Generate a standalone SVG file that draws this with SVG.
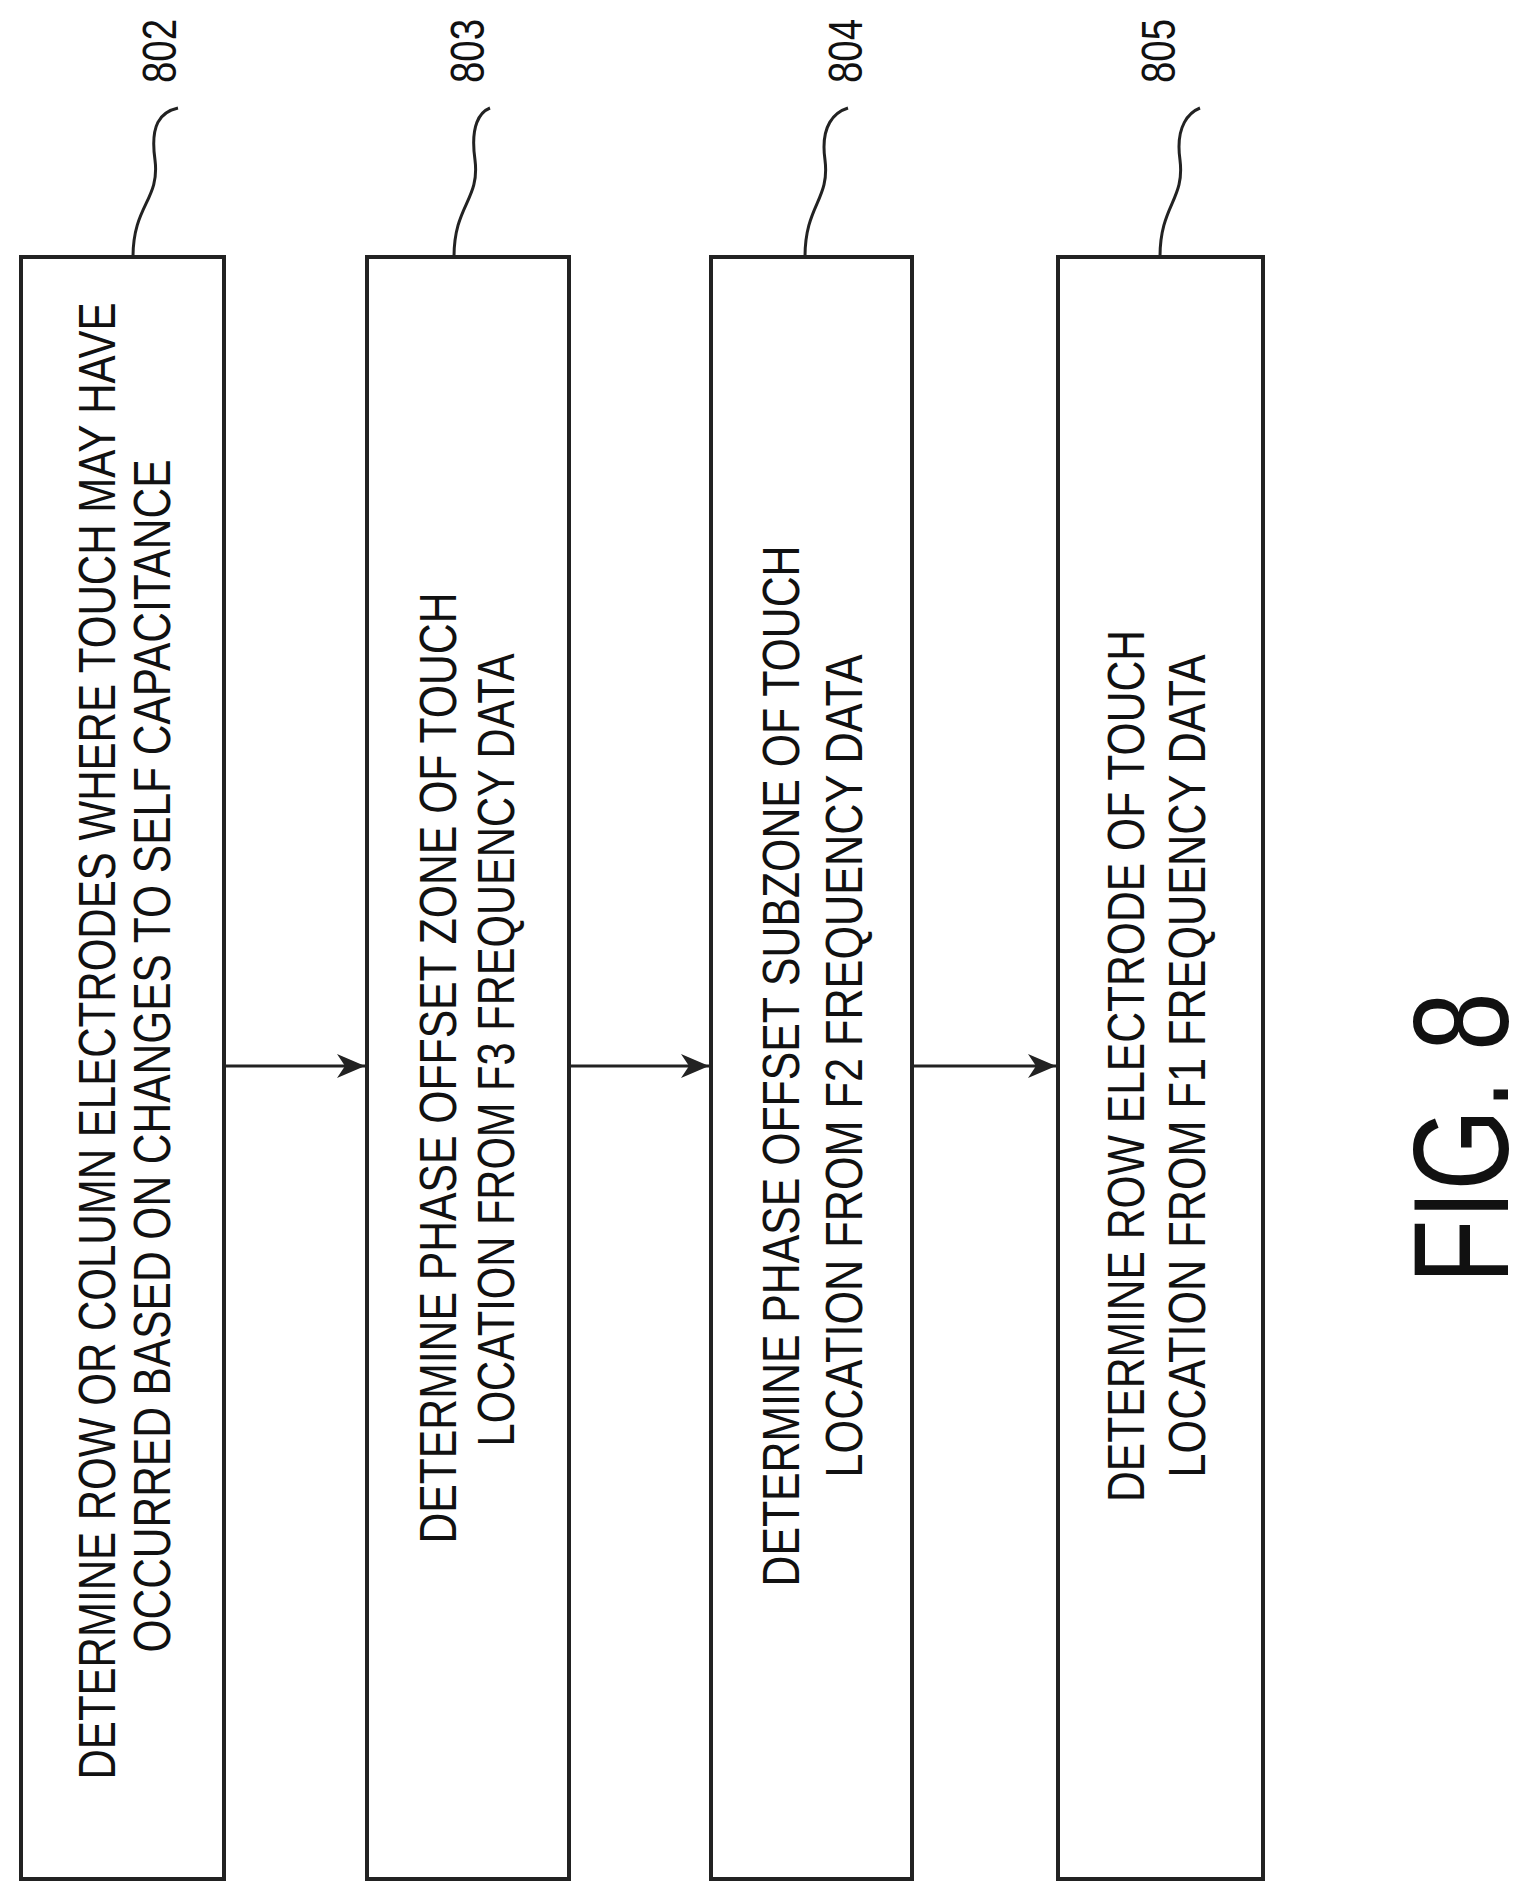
<svg xmlns="http://www.w3.org/2000/svg" width="1538" height="1903" viewBox="0 0 1538 1903">
<style>
.box{fill:#fff;stroke:#222;stroke-width:4}
.t{font-family:"Liberation Sans",Arial,sans-serif;font-size:52px;fill:#111;text-anchor:middle}
.n{font-family:"Liberation Sans",Arial,sans-serif;font-size:48px;fill:#111;text-anchor:middle}
.c{fill:none;stroke:#222;stroke-width:3}
</style>
<defs><marker id="a" markerWidth="12" markerHeight="10" refX="11" refY="5" orient="auto" markerUnits="userSpaceOnUse"><path d="M0,0 L28,5 L0,10 L6,5 Z" fill="#222" transform="scale(0.43,1)"/></marker>
<marker id="ah" markerWidth="30" markerHeight="24" refX="28" refY="12" orient="auto" markerUnits="userSpaceOnUse"><path d="M0,0 L28,12 L0,24 L8,12 Z" fill="#222"/></marker></defs>
<rect width="1538" height="1903" fill="#fff"/>
<g id="node802"><rect class="box" x="21" y="257" width="203" height="1622"/>
<text class="t" transform="translate(115,1041) rotate(-90)" textLength="1477" lengthAdjust="spacingAndGlyphs">DETERMINE ROW OR COLUMN ELECTRODES WHERE TOUCH MAY HAVE</text>
<text class="t" transform="translate(170,1056) rotate(-90)" textLength="1193" lengthAdjust="spacingAndGlyphs">OCCURRED BASED ON CHANGES TO SELF CAPACITANCE</text>
<path class="c" d="M133,257 C133,205 160,200 155,160 C150,125 160,112 178,108"/>
<text class="n" transform="translate(176,51) rotate(-90)" textLength="64" lengthAdjust="spacingAndGlyphs">802</text></g>
<g id="node803"><rect class="box" x="367" y="257" width="202" height="1622"/>
<text class="t" transform="translate(456,1068) rotate(-90)" textLength="951" lengthAdjust="spacingAndGlyphs">DETERMINE PHASE OFFSET ZONE OF TOUCH</text>
<text class="t" transform="translate(514,1050) rotate(-90)" textLength="793" lengthAdjust="spacingAndGlyphs">LOCATION FROM F3 FREQUENCY DATA</text>
<path class="c" d="M454,257 C454,205 480,200 475,160 C470,125 480,112 490,108"/>
<text class="n" transform="translate(484,51) rotate(-90)" textLength="64" lengthAdjust="spacingAndGlyphs">803</text></g>
<g id="node804"><rect class="box" x="711" y="257" width="201" height="1622"/>
<text class="t" transform="translate(799,1066) rotate(-90)" textLength="1041" lengthAdjust="spacingAndGlyphs">DETERMINE PHASE OFFSET SUBZONE OF TOUCH</text>
<text class="t" transform="translate(862,1066) rotate(-90)" textLength="823" lengthAdjust="spacingAndGlyphs">LOCATION FROM F2 FREQUENCY DATA</text>
<path class="c" d="M805,257 C805,205 830,200 825,160 C820,125 835,112 848,108"/>
<text class="n" transform="translate(862,51) rotate(-90)" textLength="64" lengthAdjust="spacingAndGlyphs">804</text></g>
<g id="node805"><rect class="box" x="1058" y="257" width="205" height="1622"/>
<text class="t" transform="translate(1144,1066) rotate(-90)" textLength="872" lengthAdjust="spacingAndGlyphs">DETERMINE ROW ELECTRODE OF TOUCH</text>
<text class="t" transform="translate(1205,1066) rotate(-90)" textLength="823" lengthAdjust="spacingAndGlyphs">LOCATION FROM F1 FREQUENCY DATA</text>
<path class="c" d="M1160,257 C1160,205 1185,200 1180,160 C1175,125 1190,112 1200,108"/>
<text class="n" transform="translate(1175,51) rotate(-90)" textLength="64" lengthAdjust="spacingAndGlyphs">805</text></g>
<g id="connectors" stroke="#222" stroke-width="3" fill="none">
<line x1="224" y1="1066" x2="365" y2="1066" marker-end="url(#ah)"/>
<line x1="569" y1="1066" x2="709" y2="1066" marker-end="url(#ah)"/>
<line x1="912" y1="1066" x2="1056" y2="1066" marker-end="url(#ah)"/>
</g>
<text transform="translate(1508,1138) rotate(-90)" font-family="'Liberation Sans',Arial,sans-serif" font-size="135" fill="#111" text-anchor="middle" textLength="291" lengthAdjust="spacingAndGlyphs">FIG. 8</text>
</svg>
